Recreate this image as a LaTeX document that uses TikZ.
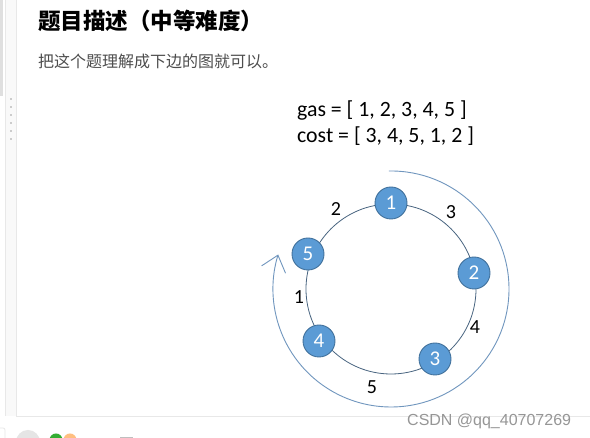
\documentclass[tikz,border=0pt]{standalone}
\usepackage{fontspec}
\setmainfont{Carlito}
\newfontfamily\cjk{Noto Sans CJK SC}
\newfontfamily\wmfont{Liberation Sans}
\usetikzlibrary{arrows.meta}
\definecolor{nodeblue}{RGB}{91,155,213}
\definecolor{nodeedge}{RGB}{65,113,156}
\definecolor{ringcol}{RGB}{72,100,128}
\definecolor{arccol}{RGB}{112,150,190}
\definecolor{subgray}{RGB}{77,77,77}
\definecolor{wmgray}{RGB}{150,150,150}
\definecolor{panelline}{RGB}{232,232,232}
\definecolor{panelbg}{RGB}{249,249,249}
\begin{document}
\begin{tikzpicture}[x=1pt,y=1pt,
  station/.style={circle,fill=nodeblue,draw=nodeedge,line width=0.9pt,minimum size=32pt,inner sep=0pt,text=white,font=\fontsize{21}{21}\selectfont},
  costlabel/.style={font=\fontsize{20}{20}\selectfont,inner sep=0pt},
  arrtext/.style={font=\fontsize{21.8}{21.8}\selectfont,anchor=base west,inner sep=0pt}]
\useasboundingbox (0,0) rectangle (590,438);
\fill[white] (0,0) rectangle (590,438);
% left panel
\fill[gray!25] (0,342) rectangle (3,438);
\fill[panelbg] (5,22) rectangle (16,438);
\draw[panelline,line width=0.8pt] (5.5,22) -- (5.5,438);
\draw[panelline,line width=1pt] (16.5,21) -- (16.5,438);
\draw[panelline,line width=1pt] (16.5,21) -- (590,21);
\foreach \yy in {338,330,322,314,306,298} \fill[gray!40] (10,\yy) rectangle (12,\yy+2);
% bottom toolbar fragments
\draw[panelline,line width=0.8pt,rounded corners=2pt] (-3,-3) rectangle (5,10);
\fill[gray!20] (28,-4) circle (12);
\fill[green!60!black!80] (56,-2) circle (6.5);
\fill[orange!50] (70,-2) circle (6.5);
\fill[gray!50] (120,-1) rectangle (133,1);
% title and text
\node[anchor=base west,inner sep=0pt,font=\cjk\bfseries\fontsize{22.5}{22.5}\selectfont] (title) at (38,408.5) {题目描述（中等难度）};
\node[anchor=base west,inner sep=0pt,text=subgray,font=\cjk\fontsize{16}{16}\selectfont] (sub) at (38,370) {把这个题理解成下边的图就可以。};
\node[arrtext] (gas) at (297,321) {gas = [ 1, 2, 3, 4, 5 ]};
\node[arrtext] (cost) at (297,295) {cost = [ 3, 4, 5, 1, 2 ]};
% ring
\coordinate (c) at (391,149);
\draw[ringcol,line width=0.8pt] (c) circle (85);
% big arrow arc
\draw[arccol,line width=0.9pt,-{Straight Barb[length=15pt,width=25pt,line width=0.9pt]}]
  (c) ++(91:118) arc[start angle=91,end angle=-197,radius=118];
% stations
\node[station] (n1) at (391,235) {1};
\node[station] (n2) at (474,165) {2};
\node[station] (n3) at (435,79) {3};
\node[station] (n4) at (319,97) {4};
\node[station] (n5) at (308,184) {5};
% cost labels
\node[costlabel] (l2) at (336,229) {2};
\node[costlabel] (l3) at (451,226) {3};
\node[costlabel] (l1) at (299,141) {1};
\node[costlabel] (l4) at (475,111) {4};
\node[costlabel] (l5) at (372,51) {5};
% watermark
\node[anchor=base west,inner sep=0pt,text=wmgray,font=\wmfont\fontsize{16}{16}\selectfont] (wm) at (407,12) {CSDN @qq\_40707269};
\end{tikzpicture}
\end{document}
